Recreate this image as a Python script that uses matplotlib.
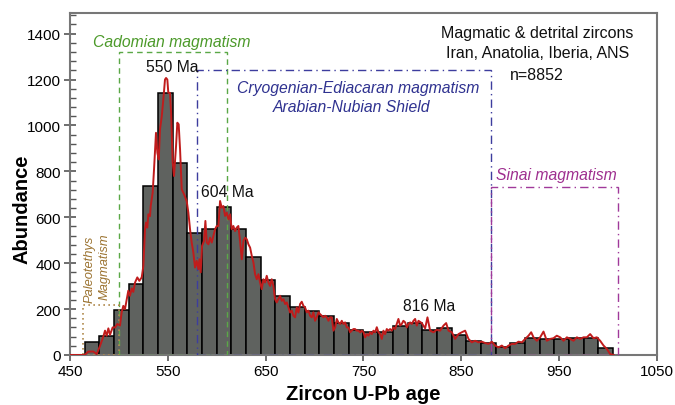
import matplotlib
matplotlib.use("Agg")
import matplotlib.pyplot as plt
from matplotlib.patches import Rectangle
from matplotlib.ticker import MultipleLocator

plt.rcParams['font.family'] = ['Liberation Sans', 'DejaVu Sans']

# Histogram: 15 Ma bins from 465 to 1005 Ma
bin_start = 465
bin_width = 15
counts = [57, 84, 195, 310, 736, 1142, 838, 533, 548, 646, 548, 425, 326, 255,
          207, 190, 170, 140, 111, 100, 100, 127, 140, 109, 118, 89, 60, 51,
          36, 53, 75, 68, 71, 72, 75, 32]

# Probability density curve (scaled to abundance)
kde_age = [450, 465, 468.7, 473.9, 477.3, 480.7, 484.1, 485.8, 487.5, 489.2, 490.9,
           493.6, 496, 498.4, 501.1, 502.8, 504.5, 506.2, 508, 509.6, 511.3, 513.1,
           514.7, 516.5, 518.8, 520.9, 523.3, 525, 526.7, 527.7, 529, 530.1, 531.8,
           532.5, 534.5, 535.9, 537.9, 539.3, 540.7, 542, 543.8, 545.4, 547.1, 548.2,
           549.5, 550.5, 552.2, 553.3, 555, 556.3, 558.4, 559.7, 561.1, 562.5, 564.2,
           566.6, 569.3, 571, 572.7, 574.4, 576.1, 577.8, 579.5, 581.2, 582.3, 583.6,
           585, 587, 588.4, 589.8, 591.5, 593.2, 594.9, 596.6, 598.3, 600, 601.7,
           603.4, 605.1, 606.8, 608.5, 610.2, 611.9, 613.6, 615.3, 617, 618.7, 620.4,
           622.1, 623.8, 625.6, 627.3, 629, 630.7, 632.4, 634.1, 635.8, 637.5, 639.2,
           640.9, 642.6, 644.3, 646, 647.7, 649.4, 651.1, 652.8, 654.5, 656.2, 657.9,
           659.6, 661.3, 663, 664.7, 666.5, 668.2, 669.9, 671.6, 673.3, 675, 676.7,
           678.4, 680.1, 681.8, 683.5, 685.2, 686.9, 688.6, 690.3, 692, 693.7, 695.4,
           697.1, 698.8, 700.5, 702.2, 704, 705.6, 707.4, 709.1, 710.8, 712.5, 714.2,
           715.9, 717.6, 719.3, 721, 722.7, 724.4, 726.1, 727.8, 729.5, 731.2, 732.9,
           734.6, 736.3, 738, 739.7, 741.4, 743.1, 744.8, 746.6, 748.3, 750, 751.7,
           753.4, 755.1, 756.8, 758.5, 760.2, 761.9, 763.6, 765.3, 767, 768.7, 770.4,
           772.1, 773.8, 775.5, 777.2, 778.9, 780.6, 782.3, 784, 785.7, 787.4, 789.1,
           790.8, 792.6, 794.3, 796, 797.7, 799.4, 801.1, 802.8, 804.5, 806.2, 809.6,
           813, 815.4, 818.1, 821.5, 824.9, 828.3, 831.8, 834.5, 836.9, 840.3, 843.7,
           847.1, 850.5, 853.9, 857.3, 860.7, 864.1, 867.5, 871, 874.4, 877.8, 881.2,
           884.6, 888, 891.4, 894.8, 898.2, 901.6, 905, 908.4, 911.9, 915.3, 918.7,
           921.4, 923.8, 927.2, 930.6, 934, 937.4, 940.8, 944.2, 947.6, 951, 954.5,
           957.9, 961.3, 964.7, 968.1, 971.5, 974.9, 978.3, 981.7, 985.1, 988.5,
           991.9, 995.4, 998.8, 1002.2, 1005.6]
kde_val = [0, 0, 15, 15, 4, 40, 81, 106, 84, 116, 88,
           120, 120, 135, 128, 186, 214, 200, 243, 280, 258, 290,
           275, 316, 338, 323, 338, 388, 548, 577, 555, 613, 605,
           649, 707, 809, 968, 881, 852, 983, 1040, 1113, 1200, 1207,
           1200, 1142, 1142, 1057, 838, 780, 910, 1012, 1005, 896, 722,
           700, 670, 620, 548, 490, 446, 381, 410, 374, 417, 360,
           475, 497, 584, 490, 482, 511, 490, 519, 548, 562, 562,
           671, 642, 649, 606, 620, 591, 613, 548, 562, 540, 555,
           562, 497, 417, 497, 511, 504, 482, 468, 432, 403, 352,
           330, 352, 316, 287, 330, 316, 345, 316, 301, 330, 301,
           243, 229, 243, 258, 236, 243, 222, 229, 207, 185, 193,
           171, 164, 207, 185, 222, 232, 214, 207, 186, 193, 171,
           164, 186, 149, 164, 186, 178, 171, 164, 171, 164, 149,
           164, 164, 106, 120, 157, 142, 135, 149, 135, 142, 120,
           120, 99, 106, 113, 113, 106, 106, 99, 106, 99, 77,
           91, 84, 99, 91, 106, 99, 121, 99, 91, 70, 106,
           91, 113, 106, 113, 106, 120, 113, 135, 157, 128, 135,
           149, 142, 120, 135, 142, 135, 149, 157, 128, 149, 139,
           116, 164, 106, 99, 110, 106, 128, 139, 106, 99, 70,
           91, 99, 106, 70, 55, 62, 55, 58, 52, 48, 58,
           41, 33, 41, 29, 41, 48, 48, 58, 55, 70, 84,
           99, 77, 62, 77, 102, 62, 70, 73, 84, 77, 62,
           77, 70, 62, 77, 70, 77, 77, 91, 73, 77,
           62, 41, 26, 4, 0]

# Magmatic episodes: (left age, right age, height)
cadomian = (500, 610, 1320)
cryogenian = (580, 880, 1240)
sinai = (880, 1010, 732)
paleotethys = (463, 500, 218)

# Peak labels: (text, age, abundance)
peaks = [("550 Ma", 555, 1258), ("604 Ma", 610.5, 714), ("816 Ma", 817.4, 214)]

fig = plt.figure(figsize=(6.75, 4.06), dpi=100)
ax = fig.add_axes([0.1037, 0.1232, 0.8696, 0.8423])

edges = [bin_start + i * bin_width for i in range(len(counts))]
ax.bar(edges, counts, width=bin_width, align='edge', color='#5f625f',
       edgecolor='black', linewidth=1.1, zorder=2)

def box(rng, color, ls, lw=1.0):
    x0, x1, h = rng
    ax.add_patch(Rectangle((x0, 0), x1 - x0, h, fill=False, edgecolor=color,
                           linestyle=ls, linewidth=lw, zorder=3))

box(cadomian, '#5aa846', (0, (4, 3)))
box(cryogenian, '#3d3d9e', (0, (6, 3, 1, 3)))
box(sinai, '#a0399a', (0, (6, 3, 1, 3)))
box(paleotethys, '#b08a4e', (0, (1, 2)), lw=1.2)

ax.plot(kde_age, kde_val, color='#c01c1c', linewidth=1.4, zorder=4)

fs = 11.3
ax.text(554.3, 1367, "Cadomian magmatism", color='#4c9a2a', style='italic',
        fontsize=fs, ha='center', va='center')
ax.text(745, 1164, "Cryogenian-Ediacaran magmatism", color='#2f3290', style='italic',
        fontsize=fs, ha='center', va='center')
ax.text(737.3, 1081, "Arabian-Nubian Shield", color='#2f3290', style='italic',
        fontsize=fs, ha='center', va='center')
ax.text(947.2, 787, "Sinai magmatism", color='#9e2f8f', style='italic',
        fontsize=fs, ha='center', va='center')
ax.text(470.4, 378, "Paleotethys", color='#9c7432', style='italic',
        fontsize=9.3, ha='center', va='center', rotation=90)
ax.text(485.8, 388, "Magmatism", color='#9c7432', style='italic',
        fontsize=9.3, ha='center', va='center', rotation=90)

ax.text(927.5, 1403, "Magmatic & detrital zircons", fontsize=11.5,
        ha='center', va='center', color='#111111')
ax.text(927.5, 1316, "Iran, Anatolia, Iberia, ANS", fontsize=11.5,
        ha='center', va='center', color='#111111')
ax.text(927.5, 1222, "n=8852", fontsize=11.5, ha='center', va='center',
        color='#111111')

for label, age, val in peaks:
    ax.text(age, val, label, fontsize=11.3, ha='center', va='center',
            color='#111111')

ax.set_xlim(450, 1050)
ax.set_ylim(0, 1490)
ax.xaxis.set_major_locator(MultipleLocator(100))
ax.xaxis.set_minor_locator(MultipleLocator(50))
ax.yaxis.set_major_locator(MultipleLocator(200))
ax.yaxis.set_minor_locator(MultipleLocator(40))
ax.set_xticks(range(450, 1051, 100))

for s in ax.spines.values():
    s.set_color('#777777')
    s.set_linewidth(1.5)
ax.tick_params(which='major', direction='inout', length=9, width=1.2,
               color='#555555', labelsize=11, pad=2)
ax.tick_params(which='minor', direction='in', length=4, width=1.0,
               color='#555555')

ax.set_xlabel("Zircon U-Pb age", fontsize=14.5, fontweight='bold', labelpad=4)
ax.set_ylabel("Abundance", fontsize=14.5, fontweight='bold', labelpad=6)
ax.yaxis.set_label_coords(-0.065, 0.43)

fig.savefig("out.png", dpi=100)
